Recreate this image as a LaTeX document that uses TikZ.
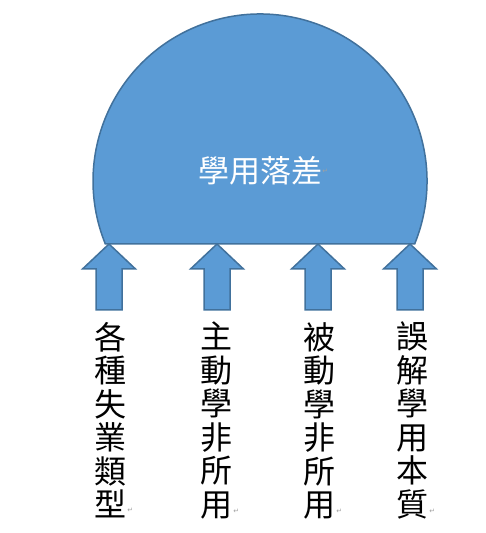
\documentclass[tikz,border=0pt]{standalone}
\usepackage{fontspec}
\newfontfamily\cjk{Noto Sans CJK TC}
\newfontfamily\dejavu{DejaVu Sans}
\definecolor{fillblue}{HTML}{5B9BD5}
\definecolor{edgeblue}{HTML}{41719C}
\definecolor{markgray}{HTML}{A0A0A0}
\begin{document}
\begin{tikzpicture}[x=1pt,y=1pt,
  shapestyle/.style={fill=fillblue,draw=edgeblue,line width=1.5pt,line join=miter},
  vtext/.style={font=\cjk\fontsize{32}{33.5}\selectfont,align=center,inner sep=0pt,anchor=north},
  retmark/.style={font=\dejavu\fontsize{7}{7}\selectfont,text=markgray,inner sep=0pt}
]
\useasboundingbox (0,0) rectangle (486,533);
% segment of a circle
\path[shapestyle] (260,352) ++(-22.16:167) arc[start angle=-22.16,end angle=202.16,radius=167] -- cycle;
\node[font=\cjk\fontsize{31}{31}\selectfont,text=white,inner sep=0pt] (title) at (260,362) {學用落差};
\node[retmark,anchor=west] (titlemark) at (title.east) {↵};
% arrows
\foreach \x [count=\i] in {109,217,318,410}{
  \path[shapestyle] (\x,289) -- (\x+26.5,264) -- (\x+13,264) -- (\x+13,223)
     -- (\x-13,223) -- (\x-13,264) -- (\x-26.5,264) -- cycle;
}
\node[vtext] (c1) at (110,211) {各\\種\\失\\業\\類\\型};
\node[vtext] (c2) at (216,211) {主\\動\\學\\非\\所\\用};
\node[vtext] (c3) at (319,211) {被\\動\\學\\非\\所\\用};
\node[vtext] (c4) at (412,211) {誤\\解\\學\\用\\本\\質};
\foreach \i in {1,2,3,4}{
  \node[retmark,anchor=south west] at ([xshift=1pt,yshift=6pt]c\i.south east) {↵};
}
\end{tikzpicture}
\end{document}
